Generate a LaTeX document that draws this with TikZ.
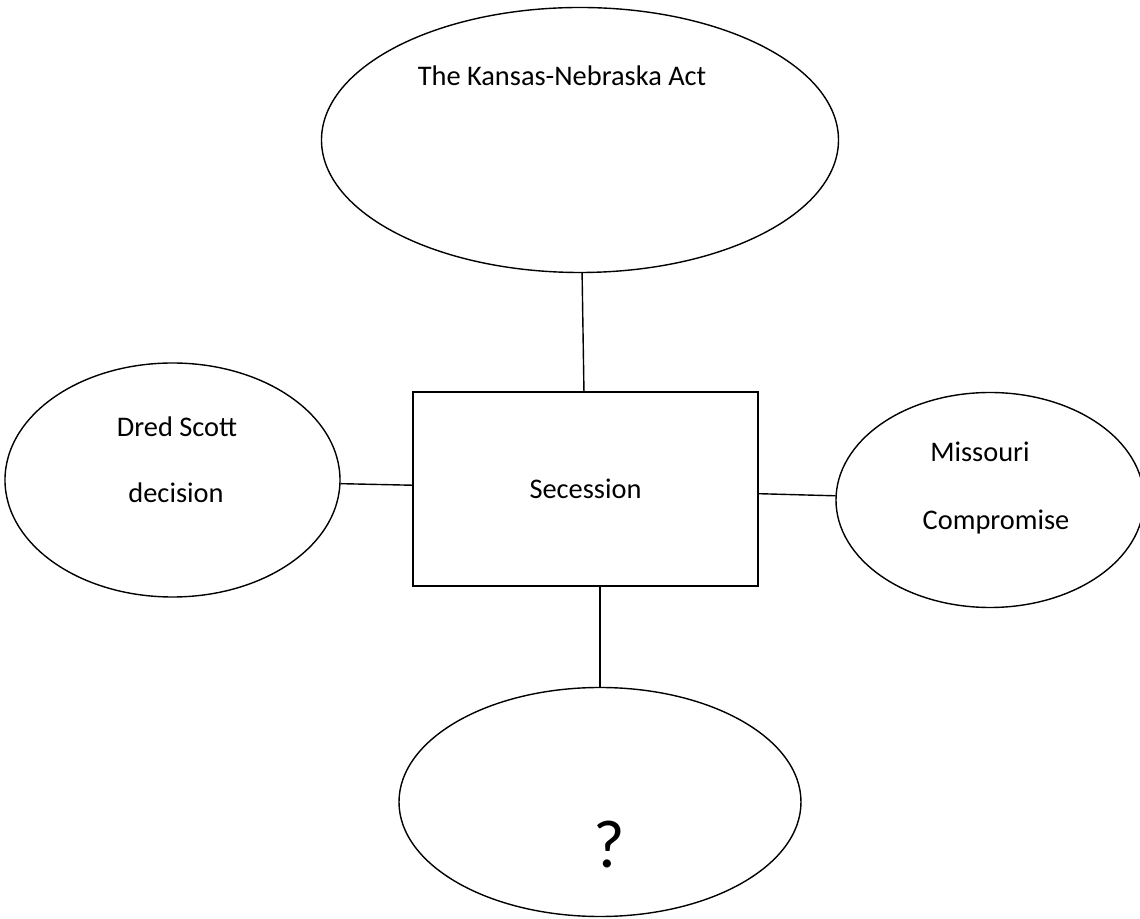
\documentclass[tikz,border=0pt]{standalone}
\usepackage{fontspec}
\setmainfont{Carlito}
\usetikzlibrary{shapes.geometric}

\begin{document}
\begin{tikzpicture}[node distance=5cm]
    \tikzstyle{every node}=[font=\fontsize{14.2}{17}\selectfont]
    \tikzstyle{topic} = [ellipse, draw, inner sep=0pt, line width=0.7pt]
    \tikzstyle{centre} = [rectangle, draw, minimum width=172.5pt, minimum height=97pt, line width=0.7pt]
    \tikzstyle{link} = [draw, line width=0.7pt]
    \useasboundingbox (-292.75pt,244.5pt) rectangle (277.25pt,-215pt);
        \node (secession) [centre] {Secession};
        \node (kansas) [topic, minimum width=258.5pt, minimum height=132.5pt, above of=secession, node distance=174.5pt, xshift=-2.75pt,
            label={[xshift=-9pt, yshift=32pt]center:The Kansas-Nebraska Act}] {};
        \node (dred) [topic, minimum width=167.5pt, minimum height=117pt, left of=secession, node distance=206.5pt, yshift=4.5pt,
            label={[xshift=2.25pt, yshift=26.5pt]center:Dred Scott},
            label={[xshift=1.75pt, yshift=-6.5pt]center:decision}] {};
        \node (missouri) [topic, minimum width=154pt, minimum height=107.5pt, right of=secession, node distance=202.25pt, yshift=-5.5pt,
            label={[xshift=-5pt, yshift=24pt]center:Missouri},
            label={[xshift=3pt, yshift=-11pt]center:Compromise}] {};
        \node (unknown) [topic, minimum width=201pt, minimum height=114.5pt, below of=secession, node distance=156.5pt, xshift=7.25pt,
            label={[xshift=4.5pt, yshift=-21.5pt, font=\fontsize{34}{40}\selectfont]center:?}] {};
        % connectors
        \draw [link] (kansas) -- (secession);
        \draw [link] (dred) -- (secession);
        \draw [link] (secession) -- (missouri);
        \draw [link] (unknown.north |- secession.south) -- (unknown.north);
\end{tikzpicture}
\end{document}
